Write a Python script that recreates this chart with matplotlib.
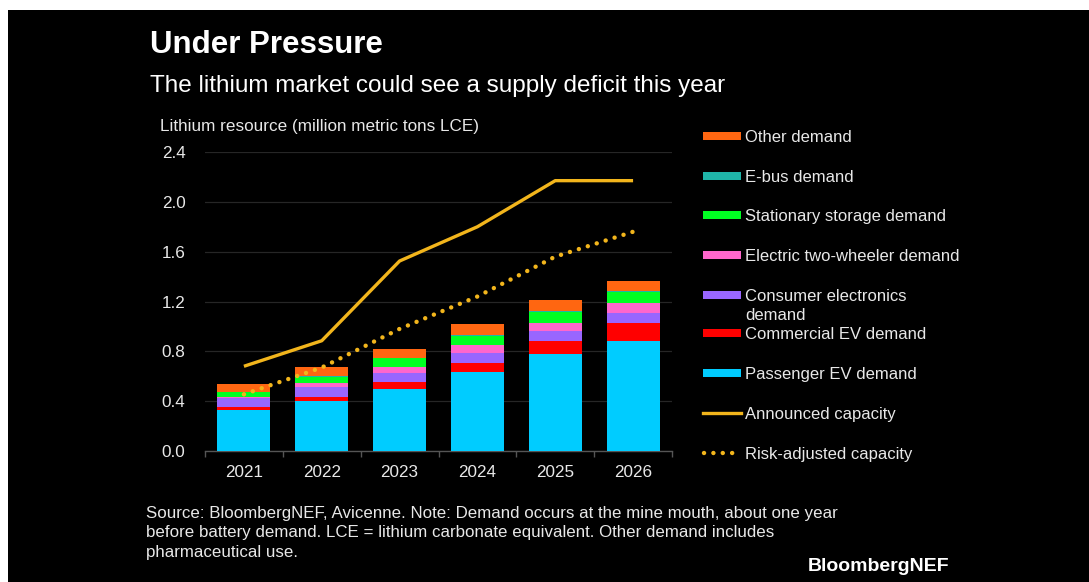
import matplotlib
matplotlib.use("Agg")
import matplotlib.pyplot as plt
from matplotlib.patches import Rectangle
from matplotlib.lines import Line2D
import numpy as np

plt.rcParams['font.family'] = ['Liberation Sans', 'DejaVu Sans']

years = ["2021", "2022", "2023", "2024", "2025", "2026"]

# Demand by segment (million metric tons LCE), stacked bottom to top
passenger_ev = [0.33, 0.40, 0.50, 0.635, 0.775, 0.885]
commercial_ev = [0.022, 0.035, 0.055, 0.075, 0.105, 0.145]
consumer_electronics = [0.072, 0.075, 0.072, 0.078, 0.080, 0.080]
two_wheeler = [0.013, 0.033, 0.048, 0.060, 0.065, 0.075]
stationary_storage = [0.035, 0.050, 0.070, 0.075, 0.090, 0.090]
e_bus = [0.003, 0.005, 0.005, 0.005, 0.005, 0.007]
other_demand = [0.064, 0.075, 0.072, 0.090, 0.090, 0.085]

# Supply capacity
announced_capacity = [0.68, 0.885, 1.525, 1.80, 2.17, 2.17]
risk_adjusted_capacity = [0.455, 0.67, 0.98, 1.24, 1.56, 1.76]

yticks = [0.0, 0.4, 0.8, 1.2, 1.6, 2.0, 2.4]

segments = [
    ("Passenger EV demand", passenger_ev, "#00CCFF"),
    ("Commercial EV demand", commercial_ev, "#FF0000"),
    ("Consumer electronics demand", consumer_electronics, "#9966FF"),
    ("Electric two-wheeler demand", two_wheeler, "#FF66CC"),
    ("Stationary storage demand", stationary_storage, "#00FF22"),
    ("E-bus demand", e_bus, "#1FB5A8"),
    ("Other demand", other_demand, "#FF6611"),
]
LINE_COLOR = "#F2B51C"
TEXT = "#E8E8E8"

W, H = 1089, 582
fig = plt.figure(figsize=(W / 100, H / 100), dpi=100, facecolor="white")
fig.patches.append(Rectangle((8 / W, 0), 1, (H - 10) / H, transform=fig.transFigure,
                             facecolor="black", edgecolor="none", zorder=-10))

ax = fig.add_axes([205 / W, 1 - 451 / H, (672 - 205) / W, (451 - 152) / H])
ax.set_facecolor("black")
ax.patch.set_alpha(0)

x = np.arange(len(years))
bottom = np.zeros(len(years))
for name, vals, col in segments:
    ax.bar(x, vals, width=0.68, bottom=bottom, color=col, edgecolor="none", zorder=3)
    bottom += np.array(vals)

ax.plot(x, announced_capacity, color=LINE_COLOR, lw=2.4, zorder=4, solid_capstyle="butt")
ax.plot(x, risk_adjusted_capacity, color=LINE_COLOR, lw=3.2, zorder=4,
        linestyle=(0, (0.01, 2.1)), dash_capstyle="round")

ax.set_xlim(-0.5, len(years) - 0.5)
ax.set_ylim(0, 2.4)
ax.set_yticks(yticks)
ax.set_yticklabels([f"{v:.1f}" for v in yticks])
ax.set_xticks(x)
ax.set_xticklabels(years)
ax.set_xticks(np.arange(-0.5, len(years)), minor=True)
ax.tick_params(axis="x", which="major", length=0, pad=10, labelsize=12.3, colors=TEXT)
ax.tick_params(axis="x", which="minor", length=4, color="#555555", width=1)
ax.tick_params(axis="y", length=0, pad=14, labelsize=12.3, colors=TEXT)
for t in ax.get_xticklabels() + ax.get_yticklabels():
    t.set_color(TEXT)
ax.grid(axis="y", color="#262626", lw=0.9, zorder=0)
for s in ["left", "right", "top"]:
    ax.spines[s].set_visible(False)
ax.spines["bottom"].set_color("#555555")
ax.spines["bottom"].set_linewidth(1)


def fy(py):
    return 1 - py / H


def fx(px):
    return px / W


fig.text(fx(150), fy(53), "Under Pressure", fontsize=22.5, fontweight="bold",
         color="white", va="baseline", ha="left")
fig.text(fx(150), fy(92), "The lithium market could see a supply deficit this year",
         fontsize=17.5, color="white", va="baseline", ha="left")
fig.text(fx(160), fy(131), "Lithium resource (million metric tons LCE)",
         fontsize=12.3, color=TEXT, va="baseline", ha="left")

# Legend: (text lines, colour, row centre in pixels)
legend_rows = [
    (["Other demand"], "#FF6611", 136),
    (["E-bus demand"], "#1FB5A8", 176),
    (["Stationary storage demand"], "#00FF22", 215),
    (["Electric two-wheeler demand"], "#FF66CC", 255),
    (["Consumer electronics", "demand"], "#9966FF", 295),
    (["Commercial EV demand"], "#FF0000", 333),
    (["Passenger EV demand"], "#00CCFF", 373),
]
for lines, col, cy in legend_rows:
    fig.patches.append(Rectangle((fx(703), fy(cy + 4)), fx(38), 8 / H,
                                 transform=fig.transFigure, facecolor=col, edgecolor="none"))
    for i, line in enumerate(lines):
        fig.text(fx(745), fy(cy + 6 + 19 * i), line, fontsize=12, color=TEXT,
                 va="baseline", ha="left")
fig.lines.append(Line2D([fx(703), fx(741)], [fy(413), fy(413)], transform=fig.transFigure,
                        color=LINE_COLOR, lw=2.4))
fig.text(fx(745), fy(419), "Announced capacity", fontsize=12, color=TEXT, va="baseline", ha="left")
fig.lines.append(Line2D([fx(704), fx(741)], [fy(453), fy(453)], transform=fig.transFigure,
                        color=LINE_COLOR, lw=3.2, linestyle=(0, (0.01, 2.1)),
                        dash_capstyle="round"))
fig.text(fx(745), fy(459), "Risk-adjusted capacity", fontsize=12, color=TEXT, va="baseline", ha="left")

footnote_lines = [
    "Source: BloombergNEF, Avicenne. Note: Demand occurs at the mine mouth, about one year",
    "before battery demand. LCE = lithium carbonate equivalent. Other demand includes",
    "pharmaceutical use.",
]
for i, line in enumerate(footnote_lines):
    fig.text(fx(146), fy(518 + 19.5 * i), line, fontsize=12.2, color=TEXT,
             va="baseline", ha="left")
fig.text(fx(808), fy(571), "BloombergNEF", fontsize=14, fontweight="bold", color="white",
         va="baseline", ha="left")

fig.savefig("out.png", dpi=100, facecolor=fig.get_facecolor())
